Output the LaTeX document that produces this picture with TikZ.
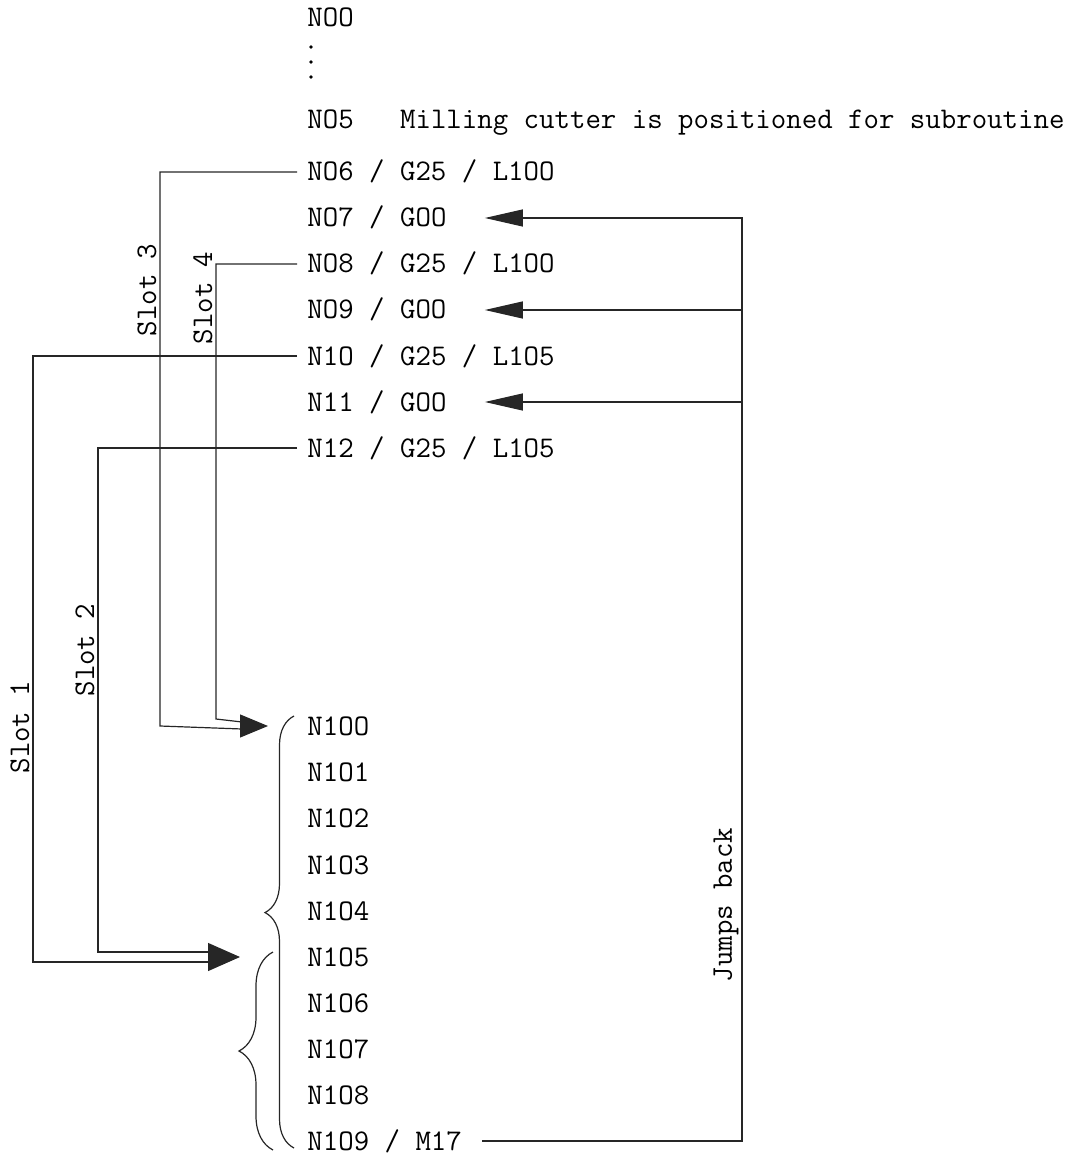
\documentclass[tikz,border=0pt]{standalone}
\usepackage{fontspec}
\usepackage{tikz}
\usetikzlibrary{arrows.meta,positioning,decorations.pathreplacing}

\begin{document}
\begin{tikzpicture}[
  x=0.5pt, y=-0.5pt,
  font=\fontsize{15}{16}\selectfont\ttfamily,
  code/.style={anchor=west, inner xsep=5pt, inner ysep=1pt, text height=9pt, text depth=0pt},
  flow/.style={line width=0.6pt, black!85},
  back/.style={flow, -{Triangle[length=19pt, width=8.5pt]}},
  slotlbl/.style={rotate=90, anchor=south, inner sep=1.5pt},
  grp/.style={flow, decorate}
]
\useasboundingbox (0,0) rectangle (1074,1154);

% main program
\node[code] (n00) at (297,18) {NOO};
\foreach \y in {47,62,77} \fill (311,\y) circle (0.9pt);
\node[code] (n05) at (297,120) {NO5\ \ \ Milling cutter is positioned for subroutine};
\node[code] (n06) at (297,172) {NO6 / G25 / L1OO};
\node[code] (n07) at (297,218) {NO7 / GOO};
\node[code] (n08) at (297,264) {NO8 / G25 / L1OO};
\node[code] (n09) at (297,310) {NO9 / GOO};
\node[code] (n10) at (297,356) {N1O / G25 / L1O5};
\node[code] (n11) at (297,402) {N11 / GOO};
\node[code] (n12) at (297,448) {N12 / G25 / L1O5};

% subroutine
\foreach \t/\y [count=\i from 0] in {OO/726,O1/772,O2/818,O3/865,O4/911,O5/957,O6/1003,O7/1049,O8/1095}
  \node[code] (n10\i) at (297,\y) {N1\t};
\node[code] (n109) at (297,1141) {N1O9 / M17};

\coordinate (t100) at ([xshift=-14.5pt]n100.west);
\coordinate (t105) at ([xshift=-28.5pt]n105.west);
\coordinate (jb7) at (742,218);
\coordinate (jb9) at (742,310);
\coordinate (jb11) at (742,402);

\draw[flow] (n06.west) -| (160,726) -- ([xshift=-13pt,yshift=-1.5pt]t100);
\draw[flow] (n08.west) -| (216,719) -- ([xshift=-13pt,yshift=2pt]t100);
\draw[flow, -{Triangle[length=14pt, width=11.5pt]}] ([xshift=-14pt]t100) -- (t100);
\draw[flow] (n10.west) -| (33,962) -- ([xshift=-15pt,yshift=-2.5pt]t105);
\draw[flow] (n12.west) -| (98,952) -- ([xshift=-15pt,yshift=2.5pt]t105);
\draw[flow, -{Triangle[length=16pt, width=14pt]}] ([xshift=-16pt]t105) -- (t105);

\node[slotlbl] (slot1) at (33,727) {Slot 1};
\node[slotlbl] (slot2) at (98,650) {Slot 2};
\node[slotlbl] (slot3) at (160,290) {Slot 3};
\node[slotlbl] (slot4) at (216,298) {Slot 4};

\draw[grp, decoration={brace, amplitude=14.5pt, aspect=0.545}]
  ([xshift=-1.5pt,yshift=-3.5pt]n109.west) -- ([xshift=-1.5pt,yshift=5pt]n100.west);
\draw[grp, decoration={brace, amplitude=17pt}]
  ([xshift=-12pt,yshift=-4.5pt]n109.west) -- ([xshift=-12pt,yshift=2.5pt]n105.west);

% return jumps
\draw[back] ([xshift=5pt]n109.east) -| (jb7) -- ([xshift=14pt]n07.east);
\draw[back] (jb9) -- ([xshift=14pt]n09.east);
\draw[back] (jb11) -- ([xshift=14pt]n11.east);
\node[slotlbl] (jumps) at (742,905) {Jumps back};

\end{tikzpicture}
\end{document}
